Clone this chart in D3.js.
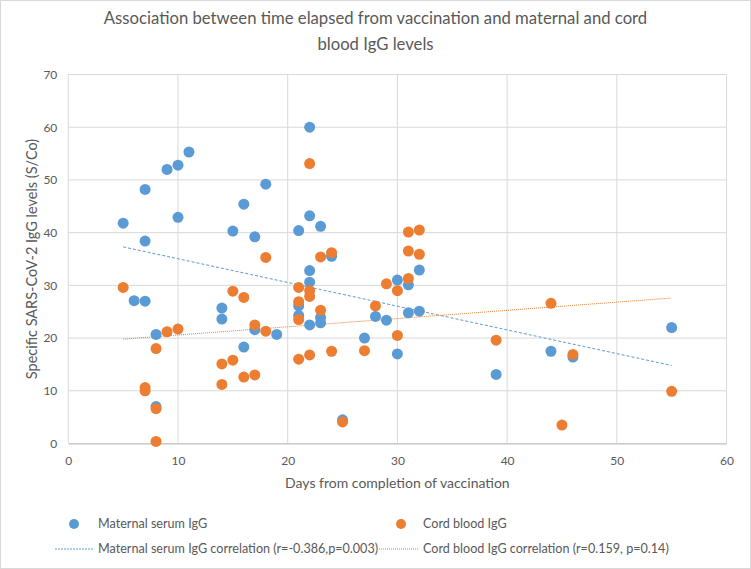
<!DOCTYPE html>
<html><head><meta charset="utf-8">
<script src="https://cdn.jsdelivr.net/npm/d3@7"></script>
<style>body{margin:0;background:#fff}svg{display:block}text{font-family:Lato,"Liberation Sans",sans-serif;fill:#595959}</style>
</head><body>
<script>
const titleLines = ["Association between time elapsed from vaccination and maternal and cord", "blood IgG levels"];
const xTicks = [0,10,20,30,40,50,60];
const yTicks = [0,10,20,30,40,50,60,70];
const maternalDays = [5,6,7,7,7,8,8,9,10,10,11,14,14,15,16,16,17,17,18,19,21,21,21,22,22,22,22,22,23,23,23,24,25,27,28,29,30,30,31,31,32,32,39,44,46,55];
const maternalIgG  = [41.8,27.1,48.2,38.4,27.0,20.7,7.0,52.0,52.8,42.9,55.3,25.7,23.6,40.3,45.4,18.3,39.2,21.6,49.2,20.7,40.4,26.1,24.3,60.0,43.2,32.8,30.6,22.5,41.2,23.9,22.9,35.5,4.5,20.0,24.1,23.4,31.0,17.0,30.1,24.8,32.9,25.1,13.1,17.5,16.4,22.0];
const cordDays = [5,7,7,8,8,8,9,10,14,14,15,15,16,16,17,17,18,18,21,21,21,21,22,22,22,22,23,23,24,24,25,27,28,29,30,30,31,31,31,32,32,39,44,45,46,55];
const cordIgG  = [29.6,10.6,10.0,18.0,6.6,0.4,21.2,21.7,15.1,11.2,28.9,15.8,27.7,12.6,22.5,13.0,35.3,21.3,29.6,26.9,23.5,16.0,53.1,29.0,27.9,16.8,35.4,25.3,36.2,17.5,4.1,17.6,26.1,30.3,29.0,20.5,40.1,36.5,31.3,40.5,35.9,19.6,26.6,3.5,16.9,9.9];
const maternalTrendDays = [5,55], maternalTrendIgG = [37.3,14.8];
const cordTrendDays = [5,55], cordTrendIgG = [19.8,27.6];
const legendLabels = ["Maternal serum IgG","Cord blood IgG","Maternal serum IgG correlation (r=-0.386,p=0.003)","Cord blood IgG correlation (r=0.159, p=0.14)"];

const W=751,H=569;
const BLUE="#5b9bd5", ORANGE="#ed7d31", GRID="#d9d9d9";
const svg=d3.select("body").append("svg").attr("width",W).attr("height",H);
svg.append("rect").attr("x",0.5).attr("y",0.5).attr("width",W-1).attr("height",H-1).attr("fill","#fff").attr("stroke",GRID);

const x=d3.scaleLinear().domain([0,60]).range([68.3,726.5]);
const y=d3.scaleLinear().domain([0,70]).range([443.5,74.5]);

// grid
const g=svg.append("g");
g.selectAll(".hg").data(yTicks).join("line").attr("x1",x(0)).attr("x2",x(60)).attr("y1",d=>y(d)).attr("y2",d=>y(d)).attr("stroke",GRID).attr("stroke-width",1);
g.selectAll(".vg").data(xTicks).join("line").attr("y1",y(0)).attr("y2",y(70)).attr("x1",d=>x(d)).attr("x2",d=>x(d)).attr("stroke",GRID).attr("stroke-width",1);

// axes
const xa=svg.append("g").attr("transform",`translate(0,${y(0)})`).call(d3.axisBottom(x).tickValues(xTicks).tickSize(0).tickPadding(13));
xa.select(".domain").attr("stroke","#bfbfbf");
xa.selectAll("text").style("font-size","12px").attr("fill","#595959");
const ya=svg.append("g").attr("transform",`translate(${x(0)},0)`).call(d3.axisLeft(y).tickValues(yTicks).tickSize(0).tickPadding(11));
ya.select(".domain").remove();
ya.selectAll("text").style("font-size","12px").attr("fill","#595959");

// titles
svg.selectAll(".title").data(titleLines).join("text").attr("x",375.5).attr("y",(d,i)=>24+i*26).attr("text-anchor","middle").style("font-size","16.7px").text(d=>d);
svg.append("text").attr("x",x(30)).attr("y",488).attr("text-anchor","middle").style("font-size","14px").text("Days from completion of vaccination");
svg.append("text").attr("transform",`translate(37,${(y(0)+y(70))/2}) rotate(-90)`).attr("text-anchor","middle").style("font-size","14.5px").text("Specific SARS-CoV-2 IgG levels (S/Co)");

// trend lines
const line=d3.line().x(d=>x(d[0])).y(d=>y(d[1]));
svg.append("path").attr("d",line(d3.zip(maternalTrendDays,maternalTrendIgG))).attr("stroke",BLUE).attr("stroke-width",1).attr("stroke-dasharray","3,2").attr("fill","none");
svg.append("path").attr("d",line(d3.zip(cordTrendDays,cordTrendIgG))).attr("stroke",ORANGE).attr("stroke-width",1).attr("stroke-dasharray","1,1").attr("fill","none");

// points
svg.append("g").selectAll("circle").data(d3.zip(maternalDays,maternalIgG)).join("circle").attr("cx",d=>x(d[0])).attr("cy",d=>y(d[1])).attr("r",5.5).attr("fill",BLUE);
svg.append("g").selectAll("circle").data(d3.zip(cordDays,cordIgG)).join("circle").attr("cx",d=>x(d[0])).attr("cy",d=>y(d[1])).attr("r",5.5).attr("fill",ORANGE);

// legend
const lg=svg.append("g");
lg.append("circle").attr("cx",74).attr("cy",524).attr("r",5).attr("fill",BLUE);
lg.append("text").attr("x",98).attr("y",528).style("font-size","12.6px").text(legendLabels[0]);
lg.append("circle").attr("cx",401).attr("cy",524).attr("r",5).attr("fill",ORANGE);
lg.append("text").attr("x",423).attr("y",528).style("font-size","12.6px").text(legendLabels[1]);
lg.append("line").attr("x1",55).attr("x2",93).attr("y1",549).attr("y2",549).attr("stroke",BLUE).attr("stroke-dasharray","2,1").attr("stroke-width",1);
lg.append("text").attr("x",98).attr("y",553).style("font-size","12.6px").text(legendLabels[2]);
lg.append("line").attr("x1",379).attr("x2",419).attr("y1",549).attr("y2",549).attr("stroke",ORANGE).attr("stroke-dasharray","1,1").attr("stroke-width",1);
lg.append("text").attr("x",423).attr("y",553).style("font-size","12.6px").text(legendLabels[3]);
</script>
</body></html>
